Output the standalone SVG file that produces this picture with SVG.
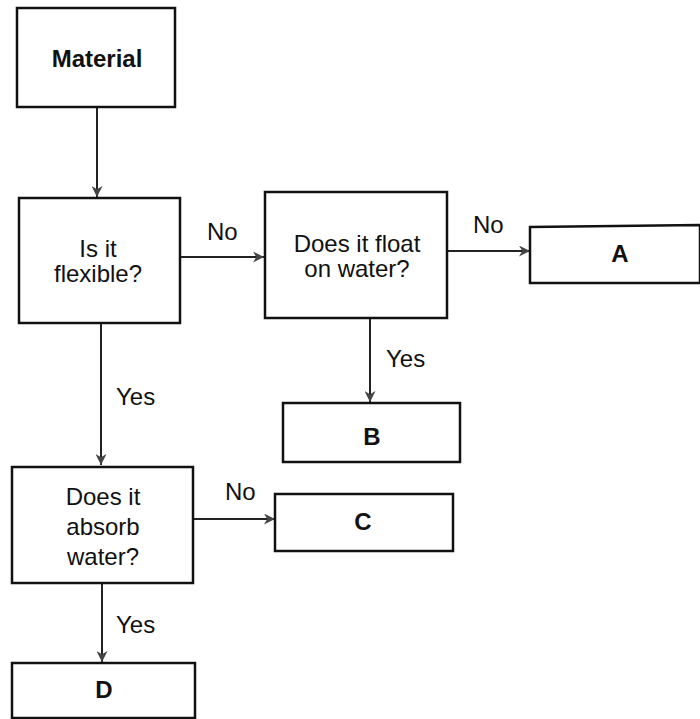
<svg xmlns="http://www.w3.org/2000/svg" width="700" height="719" viewBox="0 0 700 719">
<style>
.box{fill:#fff;stroke:#111;stroke-width:2.5}
.t{font-family:"Liberation Sans",Arial,sans-serif;font-size:24px;fill:#111;text-anchor:middle}
.b{font-weight:bold}
.lbl{font-family:"Liberation Sans",Arial,sans-serif;font-size:24px;fill:#111}
.c{stroke:#222;stroke-width:2;fill:none;marker-end:url(#ah)}
</style>
<defs>
<marker id="ah" viewBox="0 0 10 10" refX="10" refY="5" markerWidth="5.5" markerHeight="5.5" orient="auto" markerUnits="strokeWidth">
<path d="M0,0 L10,5 L0,10 L3,5 z" fill="#444"/>
</marker>
</defs>
<rect width="700" height="719" fill="#fff"/>
<g id="connectors">
<line class="c" x1="97" y1="107" x2="97" y2="197"/>
<line class="c" x1="180" y1="257" x2="264" y2="257"/>
<line class="c" x1="447" y1="251" x2="530" y2="251"/>
<line class="c" x1="370" y1="318" x2="370" y2="402"/>
<line class="c" x1="101" y1="323" x2="101" y2="465"/>
<line class="c" x1="193" y1="519" x2="275" y2="519"/>
<line class="c" x1="102" y1="583" x2="102" y2="662"/>
<text class="lbl" x="207" y="240">No</text>
<text class="lbl" x="473" y="233">No</text>
<text class="lbl" x="386" y="367">Yes</text>
<text class="lbl" x="116" y="405">Yes</text>
<text class="lbl" x="225" y="500">No</text>
<text class="lbl" x="116" y="633">Yes</text>
</g>
<g id="material">
<rect class="box" x="17" y="8" width="158" height="99"/>
<text class="t b" x="97" y="67">Material</text>
</g>
<g id="flexible">
<rect class="box" x="19" y="198" width="161" height="125"/>
<text class="t" x="98" y="257">Is it</text>
<text class="t" x="98" y="282">flexible?</text>
</g>
<g id="float">
<rect class="box" x="265" y="192" width="182" height="126"/>
<text class="t" x="357" y="252">Does it float</text>
<text class="t" x="357" y="277">on water?</text>
</g>
<g id="nodeA">
<path class="box" d="M530,227 L700,225 L700,283 L530,283 Z"/>
<text class="t b" x="620" y="262">A</text>
</g>
<g id="nodeB">
<rect class="box" x="283" y="403" width="177" height="59"/>
<text class="t b" x="372" y="445">B</text>
</g>
<g id="absorb">
<rect class="box" x="12" y="467" width="181" height="116"/>
<text class="t" x="103" y="505">Does it</text>
<text class="t" x="103" y="535">absorb</text>
<text class="t" x="103" y="565">water?</text>
</g>
<g id="nodeC">
<rect class="box" x="275" y="494" width="178" height="57"/>
<text class="t b" x="363" y="530">C</text>
</g>
<g id="nodeD">
<rect class="box" x="12" y="663" width="183" height="55"/>
<text class="t b" x="104" y="698">D</text>
</g>
</svg>
